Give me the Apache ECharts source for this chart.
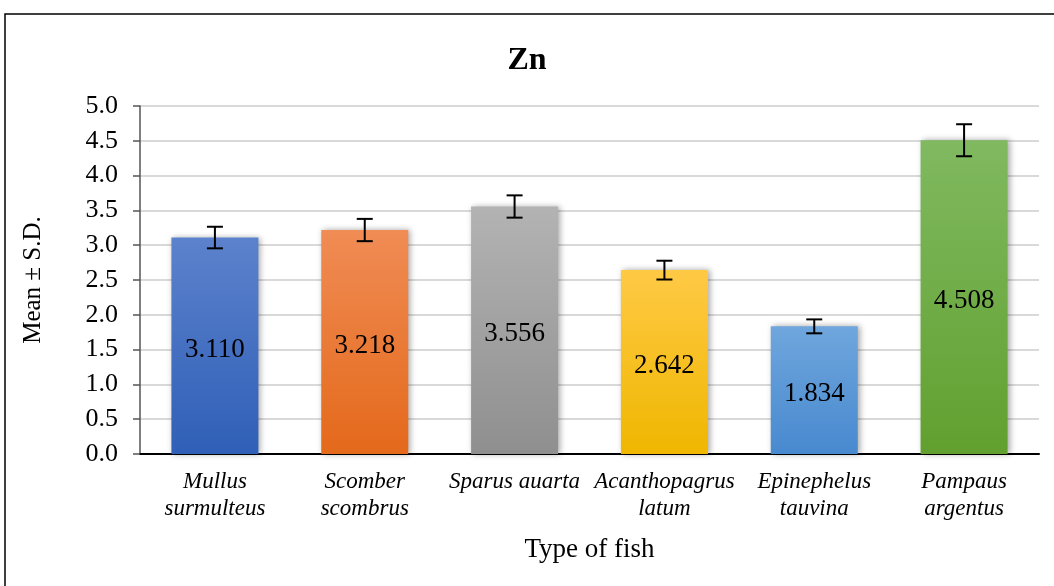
<!DOCTYPE html>
<html>
<head>
<meta charset="utf-8">
<script src="https://cdn.jsdelivr.net/npm/echarts@6/dist/echarts.min.js"></script>
<style>
    html, body {margin: 0; padding: 0; background: #fff;}
    #chart {width: 1054px; height: 586px;}
</style>
</head>
<body>
<div id="chart"></div>
<script>
var fishNames = ['Mullus\nsurmulteus', 'Scomber\nscombrus', 'Sparus auarta', 'Acanthopagrus\nlatum', 'Epinephelus\ntauvina', 'Pampaus\nargentus'];
var meanValues = [3.110, 3.218, 3.556, 2.642, 1.834, 4.508];
var sdValues = [0.155, 0.16, 0.16, 0.135, 0.1, 0.23];
var yTicks = ['0.0', '0.5', '1.0', '1.5', '2.0', '2.5', '3.0', '3.5', '4.0', '4.5', '5.0'];

// top / bottom colours of each bar gradient
var barColors = [
    ['#5c82cc', '#2f5fb7'],
    ['#f08c55', '#e4691b'],
    ['#b3b3b3', '#8f8f8f'],
    ['#ffc945', '#efb700'],
    ['#6fa6dd', '#4889cf'],
    ['#80b960', '#61a02f']
];

var serif = '"Liberation Serif", "DejaVu Serif", serif';

var chart = echarts.init(document.getElementById('chart'));

var option = {
    animation: false,
    graphic: [{
        type: 'rect',
        shape: {x: 5, y: 14, width: 1100, height: 700},
        style: {fill: 'none', stroke: '#000', lineWidth: 1.5},
        silent: true
    }],
    title: {
        text: 'Zn',
        left: 'center',
        top: 40,
        textStyle: {fontFamily: serif, fontSize: 32, fontWeight: 'bold', color: '#000'}
    },
    grid: {left: 140, right: 15, top: 106, bottom: 132},
    xAxis: {
        type: 'category',
        data: fishNames,
        name: 'Type of fish',
        nameLocation: 'middle',
        nameGap: 82,
        nameTextStyle: {fontFamily: serif, fontSize: 27, color: '#000'},
        axisLine: {lineStyle: {color: '#000', width: 2}},
        axisTick: {show: false},
        axisLabel: {
            interval: 0,
            margin: 14,
            fontFamily: serif,
            fontStyle: 'italic',
            fontSize: 23,
            lineHeight: 27,
            color: '#000'
        }
    },
    yAxis: {
        type: 'value',
        min: 0,
        max: 5,
        interval: 0.5,
        name: 'Mean ± S.D.',
        nameLocation: 'middle',
        nameGap: 94,
        nameTextStyle: {fontFamily: serif, fontSize: 25, color: '#000'},
        axisLine: {show: true, lineStyle: {color: '#555', width: 1.5}},
        axisTick: {show: true, length: 7, lineStyle: {color: '#555', width: 1.5}},
        axisLabel: {
            margin: 22,
            fontFamily: serif,
            fontSize: 26,
            color: '#000',
            formatter: function (v) {
                return yTicks[Math.round(v * 2)];
            }
        },
        splitLine: {lineStyle: {color: '#d9d9d9', width: 2}}
    },
    series: [{
        type: 'bar',
        barWidth: 87,
        data: meanValues.map(function (v, i) {
            return {
                value: v,
                itemStyle: {
                    color: new echarts.graphic.LinearGradient(0, 0, 0, 1, [
                        {offset: 0, color: barColors[i][0]},
                        {offset: 1, color: barColors[i][1]}
                    ]),
                    shadowBlur: 6,
                    shadowColor: 'rgba(0,0,0,0.35)',
                    shadowOffsetX: 2,
                    shadowOffsetY: 0
                }
            };
        }),
        label: {
            show: true,
            position: 'inside',
            offset: [0, 4],
            fontFamily: serif,
            fontSize: 27,
            color: '#000',
            formatter: function (p) {
                return p.value.toFixed(3);
            }
        },
        z: 2
    }, {
        type: 'custom',
        data: meanValues.map(function (v, i) {
            return [i, v - sdValues[i], v + sdValues[i]];
        }),
        renderItem: function (params, api) {
            var lo = api.coord([api.value(0), api.value(1)]);
            var hi = api.coord([api.value(0), api.value(2)]);
            var x = lo[0];
            var half = 8;
            var style = {stroke: '#000', lineWidth: 2};
            return {
                type: 'group',
                children: [
                    {type: 'line', shape: {x1: x, y1: lo[1], x2: x, y2: hi[1]}, style: style},
                    {type: 'line', shape: {x1: x - half, y1: lo[1], x2: x + half, y2: lo[1]}, style: style},
                    {type: 'line', shape: {x1: x - half, y1: hi[1], x2: x + half, y2: hi[1]}, style: style}
                ]
            };
        },
        z: 5
    }]
};

chart.setOption(option);
</script>
</body>
</html>
